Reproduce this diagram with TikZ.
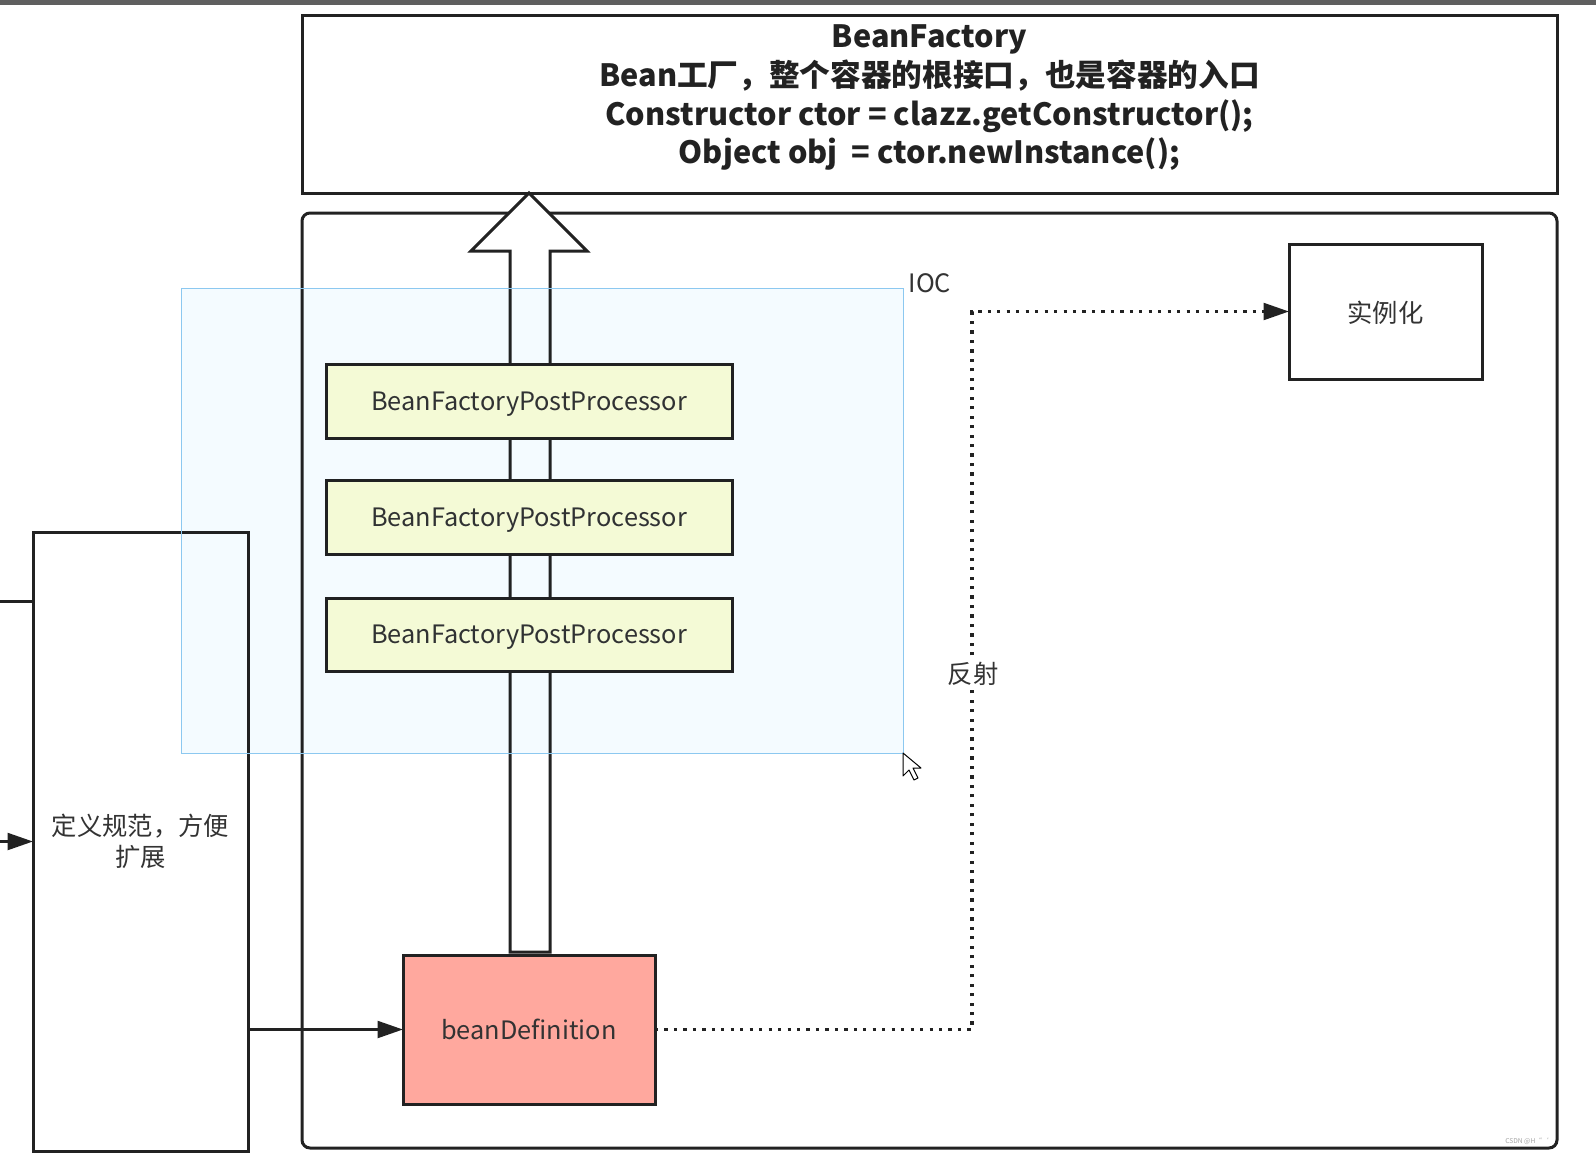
\documentclass[tikz,border=0pt]{standalone}
\usepackage{fontspec}
\setmainfont{Noto Sans CJK SC}
\usetikzlibrary{arrows.meta}
\definecolor{lineC}{RGB}{34,34,34}
\definecolor{bfppFill}{RGB}{255,254,214}
\definecolor{bdFill}{RGB}{255,168,158}
\definecolor{selFill}{RGB}{244,251,255}
\definecolor{selLine}{RGB}{140,200,240}
\definecolor{txtC}{RGB}{51,51,51}
\definecolor{barC}{RGB}{95,95,95}
\begin{document}
\begin{tikzpicture}[x=0.75pt,y=-0.75pt,
  box/.style={draw=lineC, line width=2.25pt, inner sep=0pt, outer sep=0pt, align=center, text=txtC, text depth=0pt, font=\fontsize{19}{23}\selectfont},
  conn/.style={draw=lineC, line width=2.25pt, -{Triangle[length=19pt,width=12.5pt]}},
  dotconn/.style={draw=lineC, line width=2.6pt, dash pattern=on 2.4pt off 4.7pt},
  lbl/.style={inner sep=1pt, text=txtC, font=\fontsize{19}{23}\selectfont}]
\useasboundingbox (0,0) rectangle (1596,1157);
\fill[white] (0,0) rectangle (1596,1157);
\fill[barC] (0,0) rectangle (1596,5);

% container
\node[box, rounded corners=6pt, minimum width={1255*0.75pt}, minimum height={935*0.75pt}] (ioc) at (929.5,680.5) {};
% BeanFactory
\node[box, minimum width={1255*0.75pt}, minimum height={178*0.75pt}] (bf) at (929.5,104) {};
\node[align=center, inner sep=0pt, text=lineC, font=\bfseries\fontsize{23}{29}\selectfont] (bftext) at (929.5,98)
  {BeanFactory\\Bean工厂，整个容器的根接口，也是容器的入口\\Constructor ctor = clazz.getConstructor();\\Object obj\ \ = ctor.newInstance();};

% hollow arrow
\draw[line width=2.25pt, draw=lineC, fill=white, line join=miter]
  (510,952) -- (510,251) -- (471,251) -- (529,193) -- (587,251) -- (550,251) -- (550,952) -- cycle;

\node[box, fill=bfppFill, minimum width={406*0.75pt}, minimum height={74*0.75pt}] (p1) at (529,401) {BeanFactoryPostProcessor};
\node[box, fill=bfppFill, minimum width={406*0.75pt}, minimum height={74*0.75pt}] (p2) at (529,517) {BeanFactoryPostProcessor};
\node[box, fill=bfppFill, minimum width={406*0.75pt}, minimum height={73*0.75pt}] (p3) at (529,634.5) {BeanFactoryPostProcessor};

\node[box, fill=bdFill, minimum width={252*0.75pt}, minimum height={149*0.75pt}] (bd) at (529,1029.5) {beanDefinition};
\node[box, minimum width={193*0.75pt}, minimum height={135*0.75pt}] (shi) at (1385.5,311.5) {实例化};
\node[box, text depth=, minimum width={215*0.75pt}, minimum height={619*0.75pt}, text width={200*0.75pt}] (def) at (140.5,841.5) {定义规范，方便\\扩展};

% connectors
\coordinate (L1) at (0,601);
\coordinate (L2) at (0,841.5);
\draw[draw=lineC, line width=2.25pt] (L1) -- (L1 -| def.west);
\draw[conn] (L2) -- (def.west);
\draw[conn] (def.east |- bd.west) -- (bd.west);
\coordinate (k1) at (972,1029.5);
\coordinate (k2) at (972,311.5);
\draw[dotconn] (bd.east) -- (k1) -- (k2) -- ([xshift=-14pt]shi.west);
\draw[conn] ([xshift=-14pt]shi.west) -- (shi.west);
\node[lbl, fill=white] (fanshe) at (973,674) {反射};
\node[lbl, anchor=west] (ioclbl) at (907,283) {IOC};

% selection overlay
\begin{scope}[blend mode=multiply]
\fill[selFill] (181,288) rectangle (903,753);
\end{scope}
\draw[selLine, line width=0.75pt] (181,288) rectangle (903,753);

% cursor
\draw[fill=white, draw=black, line width=0.75pt, line join=round]
  (903,753) -- (903,776) -- (909,770) -- (914,780) -- (918,778) -- (913,768) -- (921,768) -- cycle;

\node[text=gray!70, font=\fontsize{5}{6}\selectfont, inner sep=0pt] (wm) at (1527,1141) {CSDN @H```};
\end{tikzpicture}
\end{document}
